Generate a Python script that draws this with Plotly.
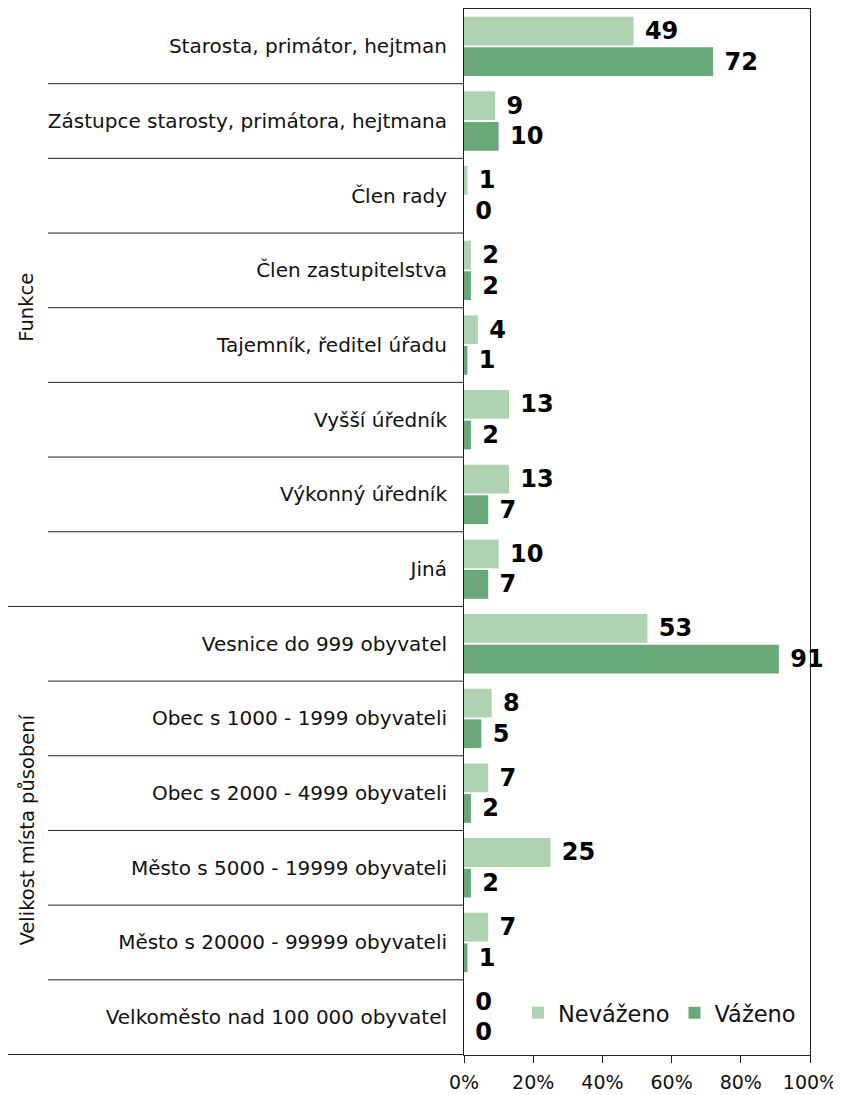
import plotly.graph_objects as go

categories = [
    "Starosta, primátor, hejtman",
    "Zástupce starosty, primátora, hejtmana",
    "Člen rady",
    "Člen zastupitelstva",
    "Tajemník, ředitel úřadu",
    "Vyšší úředník",
    "Výkonný úředník",
    "Jiná",
    "Vesnice do 999 obyvatel",
    "Obec s 1000 - 1999 obyvateli",
    "Obec s 2000 - 4999 obyvateli",
    "Město s 5000 - 19999 obyvateli",
    "Město s 20000 - 99999 obyvateli",
    "Velkoměsto nad 100 000 obyvatel",
]
nevazeno = [49, 9, 1, 2, 4, 13, 13, 10, 53, 8, 7, 25, 7, 0]
vazeno = [72, 10, 0, 2, 1, 2, 7, 7, 91, 5, 2, 2, 1, 0]
groups = [("Funkce", 0, 7), ("Velikost místa působení", 8, 13)]
x_ticks = [0, 20, 40, 60, 80, 100]
x_ticktext = ["0%", "20%", "40%", "60%", "80%", "100%"]

FONT = "DejaVu Sans"
LIGHT = "#afd3b1"
DARK = "#68a879"
LINE = "#222222"

OFF = 8  # browser body margin
W, H = 841 - OFF, 1095 - OFF
ML, MR, MT, MB = 464 - OFF, 31, 9 - OFF, 40
PW = W - ML - MR

fig = go.Figure()
for name, vals, col in [("Neváženo", nevazeno, LIGHT), ("Váženo", vazeno, DARK)]:
    fig.add_trace(go.Bar(
        y=categories, x=vals, name=name, orientation="h",
        marker=dict(color=col, line=dict(width=0)),
        text=[" " + str(v) for v in vals], texttemplate="%{text}",
        textposition="outside",
        textfont=dict(family=FONT, size=24, color="black", weight="bold"),
        cliponaxis=False, constraintext="none",
    ))

def px2paper(px):
    return (px - OFF - ML) / PW

shapes = []
for i in range(len(categories)):
    yb = i + 0.5
    full = (i == groups[0][2]) or (i == len(categories) - 1)
    x0 = px2paper(8) if full else px2paper(48)
    shapes.append(dict(type="line", xref="paper", yref="y", x0=x0, x1=0,
                       y0=yb, y1=yb, line=dict(color=LINE, width=1)))

annotations = []
for label, a, b in groups:
    annotations.append(dict(text=label, xref="paper", yref="y",
                            x=px2paper(27), y=(a + b) / 2, textangle=-90,
                            showarrow=False, xanchor="center", yanchor="middle",
                            font=dict(family=FONT, size=19.5, color="#111")))

fig.update_layout(
    width=W, height=H,
    margin=dict(l=ML, r=MR, t=MT, b=MB, pad=0),
    paper_bgcolor="white", plot_bgcolor="white",
    barmode="group", bargap=0.18, bargroupgap=0.06,
    font=dict(family=FONT, color="#111"),
    showlegend=True,
    legend=dict(orientation="h", x=px2paper(518), y=0.04, xanchor="left", yanchor="middle",
                font=dict(family=FONT, size=22.5, color="#111"),
                bgcolor="rgba(0,0,0,0)", traceorder="normal"),
    shapes=shapes, annotations=annotations,
)
fig.update_xaxes(range=[0, 100], tickvals=x_ticks, ticktext=x_ticktext,
                 showgrid=False, zeroline=False,
                 showline=True, linecolor=LINE, linewidth=1, mirror=True,
                 ticks="outside", ticklen=7, tickcolor=LINE, ticklabelstandoff=3,
                 tickfont=dict(family=FONT, size=19, color="#111"))
fig.update_yaxes(categoryorder="array", categoryarray=categories, autorange="reversed",
                 showgrid=False, zeroline=False,
                 showline=True, linecolor=LINE, linewidth=1, mirror=True,
                 ticks="", ticklabelstandoff=12,
                 tickfont=dict(family=FONT, size=20, color="#111"))

fig.write_html("out.html")
